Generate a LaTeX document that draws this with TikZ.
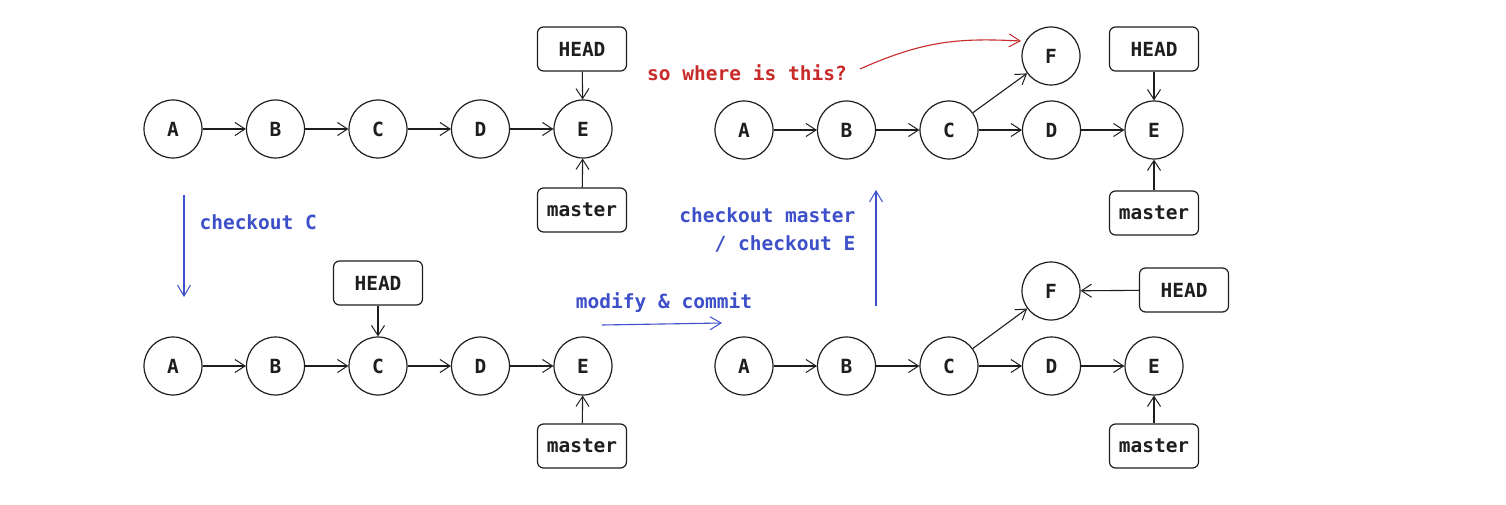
\documentclass[tikz,border=0pt]{standalone}
\usepackage{fontspec}
\setmonofont{DejaVu Sans Mono}
\usetikzlibrary{arrows.meta}
\definecolor{inkblue}{HTML}{3D4FC9}
\definecolor{inkred}{HTML}{C92A2A}
\definecolor{ink}{HTML}{1E1E1E}
\newcommand\commitrow[3]{%
  \foreach \l [count=\i from 0] in {A,B,C,D,E} {\node[commit] (#1\l) at ({#2+\i*102.5},#3) {\l};}
  \foreach \a/\b in {A/B,B/C,C/D,D/E} {\draw[edge] (#1\a) -- (#1\b);}
}
\begin{document}
\begin{tikzpicture}[x=1pt,y=-1pt,
  every node/.style={font=\ttfamily\bfseries\fontsize{19.5}{24}\selectfont},
  commit/.style={circle,draw=ink,line width=1.2pt,minimum size=58pt,inner sep=0pt,text=ink},
  refbox/.style={draw=ink,line width=1.2pt,rounded corners=6pt,minimum width=89pt,minimum height=44pt,inner sep=0pt,text=ink},
  edge/.style={draw=ink,line width=1.1pt,-{Straight Barb[length=10pt,width=13pt,line width=1pt]}},
  bluearrow/.style={draw=inkblue,line width=1.1pt,-{Straight Barb[length=11pt,width=13pt,line width=1pt]}},
  redarrow/.style={draw=inkred,line width=1.1pt,-{Straight Barb[length=11pt,width=13pt,line width=1pt]}},
  bluelabel/.style={text=inkblue},
  redlabel/.style={text=inkred}]
\useasboundingbox (0,0) rectangle (1506,505);
\fill[white] (0,0) rectangle (1506,505);

% top-left
\commitrow{tl}{173}{129}
\node[refbox] (tlhead) at (582,49) {HEAD};
\node[refbox] (tlmaster) at (582,210) {master};
\draw[edge] (tlhead) -- (tlE);
\draw[edge] (tlmaster) -- (tlE);

% bottom-left
\commitrow{bl}{173}{366}
\node[refbox] (blhead) at (378,283) {HEAD};
\node[refbox] (blmaster) at (582,446) {master};
\draw[edge] (blhead) -- (blC);
\draw[edge] (blmaster) -- (blE);

% top-right
\commitrow{tr}{744}{130}
\node[commit] (trF) at (1051,56) {F};
\draw[edge] (trC) -- (trF);
\node[refbox] (trhead) at (1154,49) {HEAD};
\node[refbox] (trmaster) at (1154,213) {master};
\draw[edge] (trhead) -- (trE);
\draw[edge] (trmaster) -- (trE);

% bottom-right
\commitrow{br}{744}{366}
\node[commit] (brF) at (1051,291) {F};
\draw[edge] (brC) -- (brF);
\node[refbox] (brhead) at (1184,290) {HEAD};
\node[refbox] (brmaster) at (1154,446) {master};
\draw[edge] (brhead) -- (brF);
\draw[edge] (brmaster) -- (brE);

% transitions
\coordinate (cA) at (184,195);
\coordinate (cB) at (184,297);
\draw[bluearrow] (cA) -- (cB);
\node[bluelabel,anchor=west] (lcheckC) at (196,222) {checkout C};

\coordinate (mA) at (602,325);
\coordinate (mB) at (722,323);
\draw[bluearrow] (mA) -- (mB);
\node[bluelabel] (lmodify) at (664,303) {modify \& commit};

\coordinate (uA) at (876,306);
\coordinate (uB) at (876,190);
\draw[bluearrow] (uA) -- (uB);
\node[bluelabel,anchor=east] (lcm) at (859,215) {checkout master};
\node[bluelabel,anchor=east] (lce) at (859,244) {/ checkout E};

\node[redlabel] (lwhere) at (747,73) {so where is this?};
\coordinate (wA) at (860,69);
\coordinate (wB) at (1021,41);
\draw[redarrow] (wA) .. controls (925,40) and (960,38) .. (wB);
\end{tikzpicture}
\end{document}
